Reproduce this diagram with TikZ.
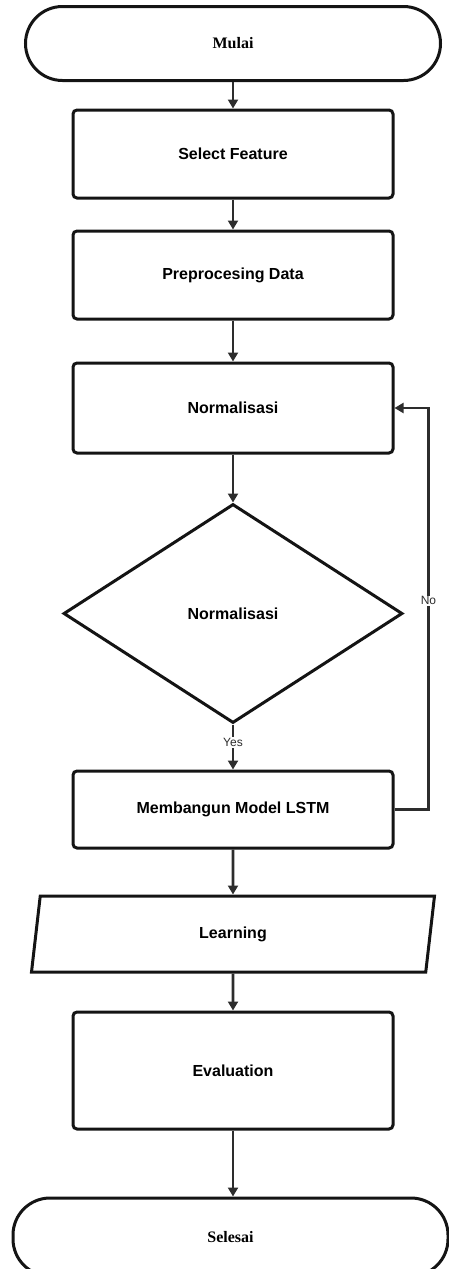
\documentclass[tikz,border=0pt]{standalone}
\usepackage{fontspec}
\setmainfont{Liberation Serif}
\setsansfont{Liberation Sans}
\usepackage{tikz}
\definecolor{ln}{RGB}{20, 20, 20}
\definecolor{ar}{RGB}{45, 45, 45}
\usetikzlibrary{shapes.geometric}
\usetikzlibrary{arrows.meta}

\begin{document}
\begin{tikzpicture}[
term/.style={rectangle, rounded corners=37pt, line width=3pt, draw=ln, font=\rmfamily\bfseries\fontsize{16}{19}\selectfont},
proc/.style={rectangle, rounded corners=4pt, minimum width=320pt, line width=3pt, draw=ln, font=\sffamily\bfseries\fontsize{16}{19}\selectfont},
dec/.style={diamond, inner sep=0pt, minimum width=339pt, minimum height=219pt, line width=3pt, draw=ln, font=\sffamily\bfseries\fontsize{16}{19}\selectfont},
io/.style={trapezium, trapezium left angle=68, trapezium right angle=112, trapezium stretches body, minimum width=403pt, minimum height=76pt, line width=3pt, draw=ln, font=\sffamily\bfseries\fontsize{16}{19}\selectfont},
flow/.style={line width=2.8pt, color=ar, -{Triangle[width=10pt, length=9pt]}},
lbl/.style={fill=white, inner sep=1pt, text=ar, font=\sffamily\fontsize{12}{14}\selectfont}]
\useasboundingbox (0pt, 0pt) rectangle (449pt, -1269pt);
\node (1) [term, minimum width=415pt, minimum height=74pt] at (233.0pt, -43.5pt) {Mulai};
\node (2) [proc, minimum height=88pt] at (233.0pt, -154.0pt) {Select Feature};
\node (3) [proc, minimum height=88pt] at (233.0pt, -275.0pt) {Preprocesing Data};
\node (4) [proc, minimum height=90pt] at (233.0pt, -408.0pt) {Normalisasi};
\node (5) [dec] at (233.0pt, -613.5pt) {Normalisasi};
\node (6) [proc, minimum height=77pt] at (233.0pt, -809.5pt) {Membangun Model LSTM};
\node (7) [io] at (233.0pt, -934.0pt) {Learning};
\node (8) [proc, minimum height=117pt] at (233.0pt, -1070.5pt) {Evaluation};
\node (9) [term, minimum width=435pt, minimum height=78pt] at (230.5pt, -1237.0pt) {Selesai};
\draw [flow] (1) to (2);
\draw [flow] (2) to (3);
\draw [flow] (3) to (4);
\draw [flow] (4) to (5);
\draw [flow] (5) to node [lbl, pos=0.4] {Yes} (6);
\draw [flow] (6.east) -- ++(34pt, 0pt) coordinate (k) -- (k |- 4.east) node [lbl, pos=0.52] {No} -- (4.east);
\draw [flow] (6) to (7);
\draw [flow] (7) to (8);
\draw [flow] (8.south) to (8.south |- 9.north);
\end{tikzpicture}
\end{document}
